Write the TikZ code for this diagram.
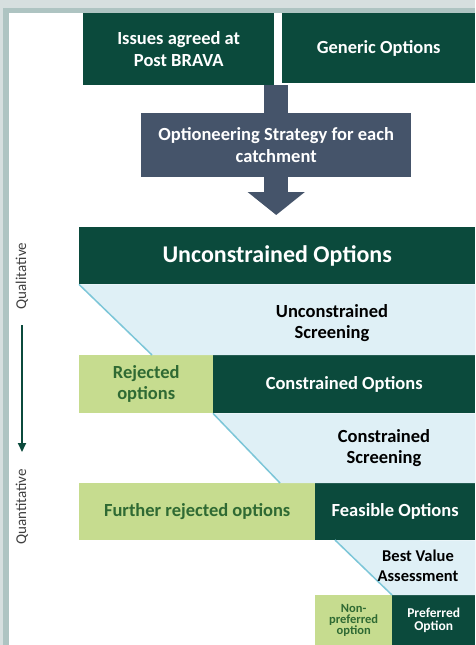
\documentclass[tikz,border=0pt]{standalone}
\usepackage{fontspec}
\setmainfont{Carlito}
\usepackage{tikz}
\usetikzlibrary{arrows.meta,positioning}
\definecolor{pine}{HTML}{0B4A3C}
\definecolor{slate}{HTML}{45546A}
\definecolor{ice}{HTML}{DFF0F6}
\definecolor{lime}{HTML}{C6DC8F}
\definecolor{moss}{HTML}{2F6A33}
\definecolor{haze}{HTML}{D6DFDF}
\definecolor{rim}{HTML}{AEC4C2}
\definecolor{teal}{HTML}{7CC6D8}
\tikzset{
  optbox/.style={
    rectangle, fill=#1, text=white, anchor=north west,
    font=\bfseries\fontsize{18.5}{21.5}\selectfont, align=center,
    inner sep=0pt
  },
  optbox/.default=pine,
  dropbox/.style={
    rectangle, fill=lime, text=moss, anchor=north west,
    font=\bfseries\fontsize{18.5}{21.5}\selectfont, align=center,
    inner sep=0pt
  },
  screentext/.style={
    font=\bfseries\fontsize{18.5}{21.5}\selectfont, align=center,
    text=black, inner sep=0pt
  },
  axistext/.style={
    font=\fontsize{15}{18}\selectfont, text=black!75, rotate=90,
    inner sep=0pt
  },
  screenband/.style={fill=ice},
  cutline/.style={draw=teal, line width=1.5pt},
  fatarrow/.style={draw=slate, line width=24pt},
  trend/.style={
    -{Triangle[length=9pt, width=8pt]}, line width=2pt, draw=pine
  },
}
\begin{document}
\begin{tikzpicture}[x=1pt, y=-1pt]
  \useasboundingbox (0,0) rectangle (475,645);
  \fill[haze] (0,0) rectangle (475,645);
  \fill[rim] (3,8) rectangle (475,645);
  \fill[white] (9,13) rectangle (475,645);

  \node[optbox, minimum width=191pt, minimum height=72pt] (issues) at (83,13)
    {Issues agreed at\\Post BRAVA};
  \node[optbox, minimum width=193pt, minimum height=70pt] (generic) at (282,13)
    {Generic Options};
  \node[optbox=slate, minimum width=270pt, minimum height=64pt] (strat) at (141,113)
    {Optioneering Strategy for each\\catchment};
  \draw[fatarrow] (strat.north |- issues.south) -- (strat.north);
  \draw[fatarrow, -{Triangle[width=56pt, length=23pt]}, shorten >=12pt]
    (strat.south) -- (strat.south |- 0,227);

  \node[optbox, minimum width=396pt, minimum height=57pt,
    font=\bfseries\fontsize{24}{28}\selectfont] (unc) at (79,227)
    {Unconstrained Options};
  \node[dropbox, minimum width=134pt, minimum height=58pt] (rej) at (79,355)
    {Rejected\\options};
  \node[optbox, minimum width=262pt, minimum height=58pt] (con) at (213,355)
    {Constrained Options};
  \node[dropbox, minimum width=236pt, minimum height=57pt] (furt) at (79,483)
    {Further rejected options};
  \node[optbox, minimum width=160pt, minimum height=57pt] (feas) at (315,483)
    {Feasible Options};
  \node[dropbox, minimum width=77pt, minimum height=50pt,
    font=\bfseries\fontsize{12.5}{11}\selectfont] (npo) at (315,595)
    {Non-\\preferred\\option};
  \node[optbox, minimum width=83pt, minimum height=50pt,
    font=\bfseries\fontsize{13.5}{13}\selectfont] (pref) at (392,595)
    {Preferred\\Option};

  \coordinate (cut1) at (152,355);
  \coordinate (cut2) at (280,483);
  \coordinate (cut3) at (335,540);
  \fill[screenband] (unc.south west) -- (unc.south east) -- (con.north east) -- (cut1) -- cycle;
  \fill[screenband] (con.south west) -- (con.south east) -- (feas.north east) -- (cut2) -- cycle;
  \fill[screenband] (cut3) -- (feas.south east) -- (pref.north east) -- (pref.north west) -- cycle;
  \draw[cutline] (unc.south west) -- (cut1);
  \draw[cutline] (con.south west) -- (cut2);
  \draw[cutline] (cut3) -- (pref.north west);

  \node[screentext] (uscreen) at (332,323) {Unconstrained\\Screening};
  \node[screentext] (cscreen) at (384,448) {Constrained\\Screening};
  \node[screentext, font=\bfseries\fontsize{16.5}{20}\selectfont] (bva) at (418,566)
    {Best Value\\Assessment};

  \node[axistext] (qual) at (22,276) {Qualitative};
  \node[axistext] (quant) at (22,507) {Quantitative};
  \draw[trend] ([xshift=0pt, yshift=-16pt]qual.west) -- ([yshift=17pt]quant.east);
\end{tikzpicture}
\end{document}
